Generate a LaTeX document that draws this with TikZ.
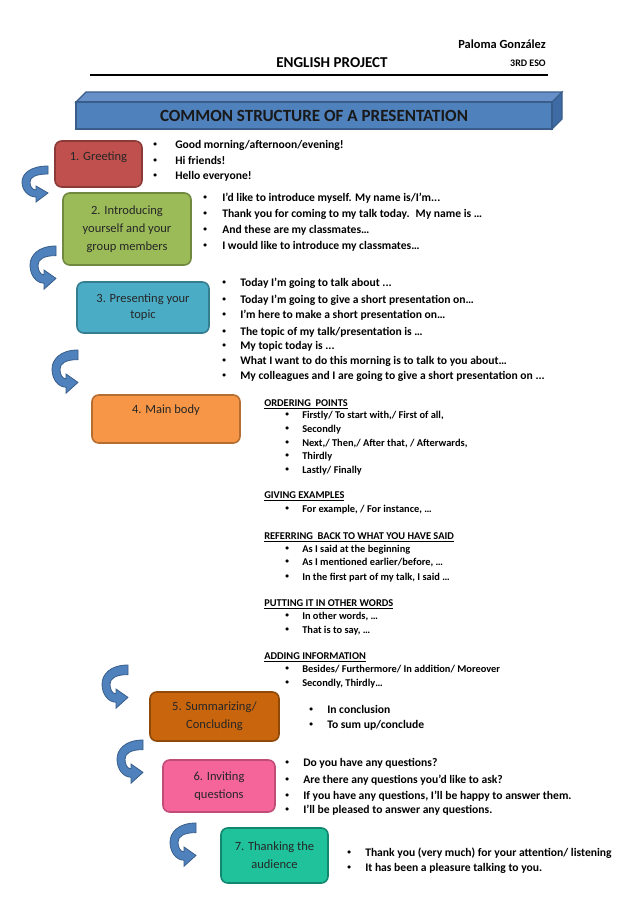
\documentclass[tikz,border=0pt]{standalone}
\usepackage{fontspec}
\setmainfont{Carlito}

\newcommand{\itemfont}{\fontsize{8.7}{10}\selectfont\bfseries}
\newcommand{\smallfont}{\fontsize{7.8}{9}\selectfont\bfseries}
\newcommand{\boxfont}{\fontsize{9.4}{13.5}\selectfont}
\newcommand{\dotgap}[1]{\makebox[#1][l]{\raisebox{1.1pt}{\fontsize{5.5}{5.5}\selectfont\textbullet}}}

\begin{document}
\begin{tikzpicture}[x=0.75pt, y=-0.75pt,
  stepbox/.style={draw, line width=1.2pt, rounded corners=5pt, align=center,
    text=black!85, font=\boxfont, inner sep=0pt},
  item/.style={anchor=base west, inner sep=0pt, font=\itemfont},
  smallitem/.style={anchor=base west, inner sep=0pt, font=\smallfont},
  arrowfill/.style={fill=arrowblue, draw=arrowedge, line width=0.6pt},
  bendarrow/.pic={
    \draw[arrowfill] (26,0) .. controls (8,0) and (0,8) .. (0,16)
      .. controls (0,24) and (6,31) .. (14,31) -- (14,36) -- (26,27) -- (14,20) -- (14,24)
      .. controls (10,24) and (8,20) .. (8,16) .. controls (8,11) and (14,8) .. (26,8) -- cycle;
  }]

% Colors
\definecolor{greetred}{HTML}{C0504D}   % red
\definecolor{greetedge}{HTML}{8C3A38}
\definecolor{introgreen}{HTML}{9BBB59} % green
\definecolor{introedge}{HTML}{71893F}
\definecolor{topicblue}{HTML}{4BACC6}  % blue
\definecolor{topicedge}{HTML}{357D91}
\definecolor{bodyorange}{HTML}{F79646} % orange
\definecolor{bodyedge}{HTML}{B66D31}
\definecolor{sumbrown}{HTML}{C9650C}   % brown
\definecolor{sumedge}{HTML}{8F4A0A}
\definecolor{askpink}{HTML}{F5659A}    % pink
\definecolor{askedge}{HTML}{C04C78}
\definecolor{thankteal}{HTML}{1FC29B}  % teal
\definecolor{thankedge}{HTML}{12876F}
\definecolor{arrowblue}{HTML}{4F81BD}
\definecolor{arrowedge}{HTML}{385D8A}
\definecolor{bartop}{HTML}{6790C9}
\definecolor{barside}{HTML}{3E6BA3}

\useasboundingbox (0,0) rectangle (638,903);

% === HEADER ===
\node[anchor=base east, inner sep=0pt, font=\fontsize{9.3}{11}\selectfont\bfseries] (author) at (546,48) {Paloma González};
\node[anchor=base, inner sep=0pt, font=\fontsize{11.3}{13}\selectfont\bfseries] (project) at (332,67) {ENGLISH PROJECT};
\node[anchor=base east, inner sep=0pt, font=\fontsize{7.5}{9}\selectfont\bfseries] (level) at (546,66) {3RD ESO};
\draw[line width=1.1pt] (90,75) -- (548,75);

% === TITLE BAR ===
\draw[fill=bartop, draw=arrowedge, line width=0.8pt] (76,102) -- (86,92) -- (562,92) -- (552,102) -- cycle;
\draw[fill=barside, draw=arrowedge, line width=0.8pt] (552,102) -- (562,92) -- (562,119) -- (552,129) -- cycle;
\draw[fill=arrowblue, draw=arrowedge, line width=0.8pt] (76,102) rectangle (552,129);
\node[font=\fontsize{12.8}{15}\selectfont\bfseries, text=black!90] (title) at (314,115.5) {COMMON STRUCTURE OF A PRESENTATION};

% === STEP BOXES ===
\node[stepbox, fill=greetred, draw=greetedge, minimum width=65.25pt, minimum height=34.5pt, text depth=12pt] (greet) at (98.5,164) {1. Greeting};
\node[stepbox, fill=introgreen, draw=introedge, minimum width=96pt, minimum height=54pt] (intro) at (127,229) {2. Introducing\\yourself and your\\group members};
\node[stepbox, fill=topicblue, draw=topicedge, minimum width=99pt, minimum height=38.25pt, font=\fontsize{9.4}{12}\selectfont] (topic) at (143,307.5) {3. Presenting your\\topic};
\node[stepbox, fill=bodyorange, draw=bodyedge, minimum width=111pt, minimum height=36pt, text depth=15pt] (body) at (166,419) {4. Main body};
\node[stepbox, fill=sumbrown, draw=sumedge, minimum width=96.75pt, minimum height=36.75pt] (summ) at (214.5,716.5) {5. Summarizing/\\Concluding};
\node[stepbox, fill=askpink, draw=askedge, minimum width=84pt, minimum height=39pt] (invite) at (219,786) {6. Inviting\\questions};
\node[stepbox, fill=thankteal, draw=thankedge, minimum width=80.25pt, minimum height=41.25pt] (thank) at (274.5,855.5) {7. Thanking the\\audience};

% === Arrows ===
\pic at (22,166) {bendarrow};
\pic[yscale=1.2] at (30,246) {bendarrow};
\pic[yscale=1.2] at (52,350) {bendarrow};
\pic[yscale=1.2] at (102,665) {bendarrow};
\pic[yscale=1.2] at (117,740) {bendarrow};
\pic[yscale=1.2] at (170,823) {bendarrow};

% === 1. Greeting ===
\node[item] (greet1) at (153,148) {\dotgap{16.5pt}Good morning/afternoon/evening!};
\node[item] (greet2) at (153,164) {\dotgap{16.5pt}Hi friends!};
\node[item] (greet3) at (153,179) {\dotgap{16.5pt}Hello everyone!};

% === 2. Introducing ===
\node[item] (intro1) at (203,201) {\dotgap{14.25pt}I'd like to introduce myself. My name is/I’m...};
\node[item] (intro2) at (203,217) {\dotgap{14.25pt}Thank you for coming to my talk today.~ My name is …};
\node[item] (intro3) at (203,233) {\dotgap{14.25pt}And these are my classmates…};
\node[item] (intro4) at (203,249) {\dotgap{14.25pt}I would like to introduce my classmates…};

% === 3. Presenting ===
\node[item] (topic1) at (222,286) {\dotgap{13.5pt}Today I’m going to talk about ...};
\node[item] (topic2) at (222,303) {\dotgap{13.5pt}Today I’m going to give a short presentation on…};
\node[item] (topic3) at (222,318) {\dotgap{13.5pt}I’m here to make a short presentation on…};
\node[item] (topic4) at (222,335) {\dotgap{13.5pt}The topic of my talk/presentation is …};
\node[item] (topic5) at (222,349) {\dotgap{13.5pt}My topic today is ...};
\node[item] (topic6) at (222,364) {\dotgap{13.5pt}What I want to do this morning is to talk to you about…};
\node[item] (topic7) at (222,379) {\dotgap{13.5pt}My colleagues and I are going to give a short presentation on ...};

% === 4. Main body ===
\node[smallitem] (order) at (264,406) {\underline{ORDERING~ POINTS}};
\node[smallitem] (order1) at (285,418) {\dotgap{12.75pt}Firstly/ To start with,/ First of all,};
\node[smallitem] (order2) at (285,432) {\dotgap{12.75pt}Secondly};
\node[smallitem] (order3) at (285,446) {\dotgap{12.75pt}Next,/ Then,/ After that, / Afterwards,};
\node[smallitem] (order4) at (285,459) {\dotgap{12.75pt}Thirdly};
\node[smallitem] (order5) at (285,473) {\dotgap{12.75pt}Lastly/ Finally};

\node[smallitem] (example) at (264,498) {\underline{GIVING EXAMPLES}};
\node[smallitem] (example1) at (285,512) {\dotgap{12.75pt}For example, / For instance, …};

\node[smallitem] (refer) at (264,539) {\underline{REFERRING~ BACK TO WHAT YOU HAVE SAID}};
\node[smallitem] (refer1) at (285,552) {\dotgap{12.75pt}As I said at the beginning};
\node[smallitem] (refer2) at (285,565) {\dotgap{12.75pt}As I mentioned earlier/before, …};
\node[smallitem] (refer3) at (285,580) {\dotgap{12.75pt}In the first part of my talk, I said …};

\node[smallitem] (words) at (264,606) {\underline{PUTTING IT IN OTHER WORDS}};
\node[smallitem] (words1) at (285,619) {\dotgap{12.75pt}In other words, …};
\node[smallitem] (words2) at (285,633) {\dotgap{12.75pt}That is to say, …};

\node[smallitem] (adding) at (264,659) {\underline{ADDING INFORMATION}};
\node[smallitem] (adding1) at (285,672) {\dotgap{12.75pt}Besides/ Furthermore/ In addition/ Moreover};
\node[smallitem] (adding2) at (285,686) {\dotgap{12.75pt}Secondly, Thirdly…};

% === 5. Summarizing ===
\node[item] (summ1) at (309,713) {\dotgap{13.5pt}In conclusion};
\node[item] (summ2) at (309,728) {\dotgap{13.5pt}To sum up/conclude};

% === 6. Inviting ===
\node[item] (invite1) at (285,766) {\dotgap{13.5pt}Do you have any questions?};
\node[item] (invite2) at (285,783) {\dotgap{13.5pt}Are there any questions you’d like to ask?};
\node[item] (invite3) at (285,799) {\dotgap{13.5pt}If you have any questions, I’ll be happy to answer them.};
\node[item] (invite4) at (285,813) {\dotgap{13.5pt}I’ll be pleased to answer any questions.};

% === 7. Thanking ===
\node[item] (thank1) at (347,856) {\dotgap{13.5pt}Thank you (very much) for your attention/ listening};
\node[item] (thank2) at (347,871) {\dotgap{13.5pt}It has been a pleasure talking to you.};

\end{tikzpicture}
\end{document}
